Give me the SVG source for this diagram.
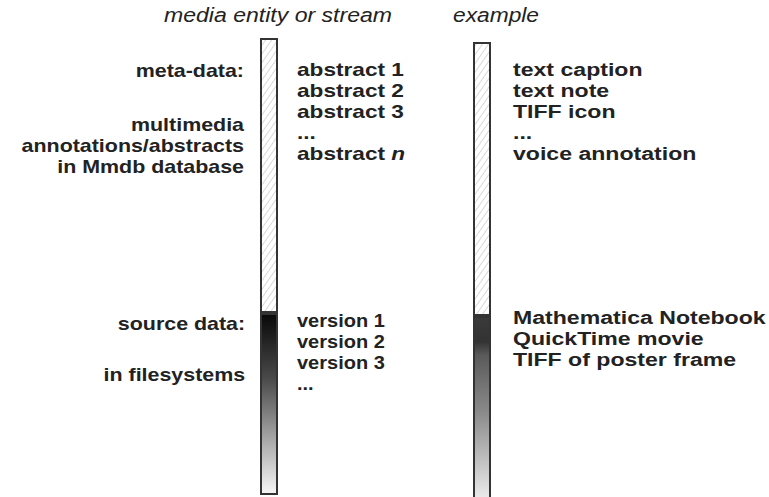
<svg xmlns="http://www.w3.org/2000/svg" width="769" height="497" viewBox="0 0 769 497">
<style>
text{font-family:"Liberation Sans",Arial,sans-serif;fill:#222}
.b{font-weight:bold;font-size:18.7px}
.h{font-style:italic;font-size:20px}
.r{text-anchor:end}
.bar{stroke:#333;stroke-width:2}
</style>
<defs>
<pattern id="hatch" width="5" height="5" patternUnits="userSpaceOnUse" patternTransform="rotate(35)">
<rect width="5" height="5" fill="#fff"/>
<line x1="0" y1="0" x2="0" y2="5" stroke="#d8d8d8" stroke-width="2"/>
</pattern>
<linearGradient id="gL" x1="0" y1="0" x2="0" y2="1">
<stop offset="0" stop-color="#080808"/>
<stop offset="0.36" stop-color="#4a4a4a"/>
<stop offset="0.7" stop-color="#a8a8a8"/>
<stop offset="1" stop-color="#f6f6f6"/>
</linearGradient>
<linearGradient id="gR" x1="0" y1="0" x2="0" y2="1">
<stop offset="0" stop-color="#3a3a3a"/>
<stop offset="0.13" stop-color="#333"/>
<stop offset="0.2" stop-color="#5a5a5a"/>
<stop offset="0.5" stop-color="#8a8a8a"/>
<stop offset="1" stop-color="#f4f4f4"/>
</linearGradient>
</defs>
<g id="headers">
<text class="h" x="164" y="22" textLength="228" lengthAdjust="spacingAndGlyphs">media entity or stream</text>
<text class="h" x="453" y="22" textLength="86" lengthAdjust="spacingAndGlyphs">example</text>
</g>
<g id="left-bar">
<rect class="bar" x="261" y="39" width="16" height="273" fill="url(#hatch)"/>
<rect class="bar" x="261" y="314" width="16" height="180" fill="url(#gL)"/>
</g>
<g id="right-bar">
<rect class="bar" x="474" y="43" width="16" height="272" fill="url(#hatch)"/>
<rect class="bar" x="474" y="317" width="16" height="190" fill="url(#gR)"/>
</g>
<g id="labels-left" transform="translate(244 0) scale(1.145 1) translate(-244 0)">
<text class="b r" x="244" y="77">meta-data:</text>
<text class="b r" x="244" y="131">multimedia</text>
<text class="b r" x="244" y="152">annotations/abstracts</text>
<text class="b r" x="244" y="173">in Mmdb database</text>
<text class="b r" x="245" y="330">source data:</text>
<text class="b r" x="245" y="381">in filesystems</text>
</g>
<g id="abstracts" transform="translate(297 0) scale(1.21 1) translate(-297 0)">
<text class="b" x="297" y="76">abstract 1</text>
<text class="b" x="297" y="97">abstract 2</text>
<text class="b" x="297" y="118">abstract 3</text>
<text class="b" x="297" y="139">...</text>
<text class="b" x="297" y="160">abstract <tspan font-style="italic">n</tspan></text>
</g>
<g id="versions" transform="translate(297 0) scale(1.07 1) translate(-297 0)">
<text class="b" x="297" y="327">version 1</text>
<text class="b" x="297" y="348">version 2</text>
<text class="b" x="297" y="369">version 3</text>
<text class="b" x="297" y="390">...</text>
</g>
<g id="examples" transform="translate(513 0) scale(1.235 1) translate(-513 0)">
<text class="b" x="513" y="76">text caption</text>
<text class="b" x="513" y="97">text note</text>
<text class="b" x="513" y="118">TIFF icon</text>
<text class="b" x="513" y="139">...</text>
<text class="b" x="513" y="160">voice annotation</text>
<text class="b" x="513" y="324">Mathematica Notebook</text>
<text class="b" x="513" y="345">QuickTime movie</text>
<text class="b" x="513" y="366">TIFF of poster frame</text>
</g>
<g id="connectors"></g>
</svg>
